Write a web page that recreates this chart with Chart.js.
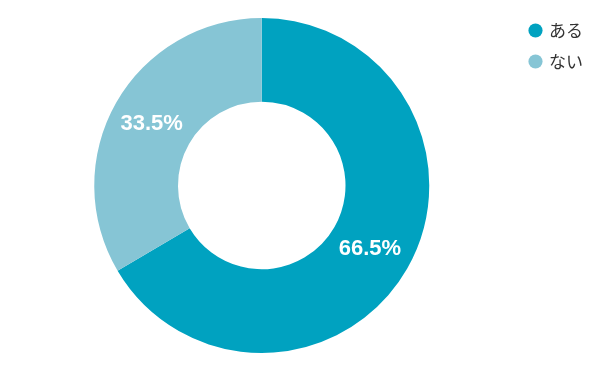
<!DOCTYPE html>
<html>
<head>
<meta charset="utf-8">
<script src="https://cdn.jsdelivr.net/npm/chart.js@4"></script>
<style>
  html, body { margin: 0; padding: 0; background: #fff; }
  #wrap { width: 600px; height: 371px; }
</style>
</head>
<body>
<div id="wrap"><canvas id="chart"></canvas></div>
<script>
const categories = ["ある", "ない"];
const values = [66.5, 33.5];
const colors = ["#00A2C0", "#86C5D5"];

// 각 조각 안에 퍼센트 표시
const sliceLabels = {
    id: 'sliceLabels',
    afterDatasetsDraw(chart) {
        const ctx = chart.ctx;
        const meta = chart.getDatasetMeta(0);
        ctx.save();
        ctx.fillStyle = '#fff';
        ctx.font = 'bold 22px "Liberation Sans", Arial, sans-serif';
        ctx.textAlign = 'center';
        ctx.textBaseline = 'middle';
        meta.data.forEach((arc, i) => {
            const p = arc.tooltipPosition();
            ctx.fillText(values[i].toFixed(1) + '%', p.x - 1, p.y + 1);
        });
        ctx.restore();
    }
};

// 범례 위치 미세 조정 (위로, 오른쪽으로)
const legendShift = {
    id: 'legendShift',
    afterLayout(chart) {
        const lg = chart.legend;
        if (lg) {
            lg.top -= 10;
            lg.bottom -= 10;
            lg.left += 11;
            lg.right += 11;
        }
    }
};

new Chart(document.getElementById('chart'), {
    type: 'doughnut',
    data: {
        labels: categories,
        datasets: [{
            data: values,
            backgroundColor: colors,
            borderWidth: 0
        }]
    },
    options: {
        responsive: true,
        maintainAspectRatio: false,
        animation: false,
        cutout: '50%',
        layout: { padding: { top: 18, bottom: 18, left: 18, right: 18 } },
        plugins: {
            legend: {
                position: 'right',
                align: 'start',
                labels: {
                    usePointStyle: true,
                    pointStyle: 'circle',
                    boxWidth: 10,
                    boxHeight: 10,
                    padding: 14,
                    color: '#333',
                    font: { size: 17, family: '"Noto Sans CJK JP", sans-serif' }
                }
            },
            tooltip: { enabled: false }
        }
    },
    plugins: [sliceLabels, legendShift]
});
</script>
</body>
</html>
